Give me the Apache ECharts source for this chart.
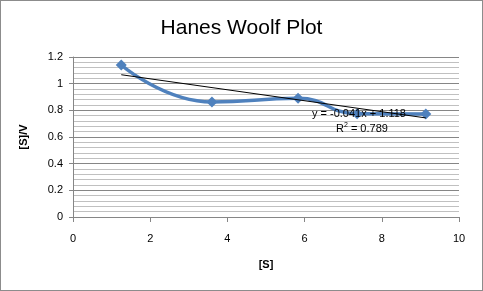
<!DOCTYPE html>
<html>
<head>
<meta charset="utf-8">
<script src="https://cdn.jsdelivr.net/npm/echarts@6/dist/echarts.min.js"></script>
<style>
  html, body { margin: 0; padding: 0; background: #fff; }
  #chart { width: 481px; height: 289px; border: 1px solid #8c8c8c; }
</style>
</head>
<body>
<div id="chart"></div>
<script>
// [S] values and [S]/V
const sValues = [1.25, 3.6, 5.83, 7.36, 9.14]
const svValues = [1.14, 0.863, 0.89, 0.775, 0.773]
// linear trendline end points (y = -0.041x + 1.118)
const trendX = [1.25, 9.14]
const trendY = [1.067, 0.743]
const xTicks = [0, 2, 4, 6, 8, 10]
const yTicks = [0, 0.2, 0.4, 0.6, 0.8, 1, 1.2]

const points = sValues.map((x, i) => [x, svValues[i]])
const trend = trendX.map((x, i) => [x, trendY[i]])

const myChart = echarts.init(document.getElementById('chart'))
const font = '"Liberation Sans", Arial, sans-serif'

const option = {
  backgroundColor: '#fff',
  animation: false,
  title: {
    text: 'Hanes Woolf Plot',
    left: 'center',
    top: 12,
    textStyle: { fontFamily: font, fontSize: 21, fontWeight: 'normal', color: '#000' }
  },
  grid: { left: 72, right: 23, top: 56, bottom: 73 },
  xAxis: {
    type: 'value',
    min: 0,
    max: 10,
    interval: 2,
    name: '[S]',
    nameLocation: 'middle',
    nameGap: 42,
    nameTextStyle: { fontFamily: font, fontSize: 11, fontWeight: 'bold', color: '#000' },
    axisLine: { lineStyle: { color: '#868686' } },
    axisTick: { show: true, length: 5, lineStyle: { color: '#868686' } },
    axisLabel: { fontFamily: font, fontSize: 11, color: '#000', margin: 16 },
    splitLine: { show: false }
  },
  yAxis: {
    type: 'value',
    min: 0,
    max: 1.2,
    interval: 0.2,
    name: '[S]/V',
    nameLocation: 'middle',
    nameGap: 44,
    nameTextStyle: { fontFamily: font, fontSize: 11, fontWeight: 'bold', color: '#000' },
    axisLine: { show: true, lineStyle: { color: '#868686' } },
    axisTick: { show: true, length: 4, lineStyle: { color: '#868686' } },
    axisLabel: { fontFamily: font, fontSize: 11, color: '#000', margin: 10,
      formatter: v => String(yTicks.find(t => Math.abs(t - v) < 1e-6) ?? v) },
    splitLine: { show: true, lineStyle: { color: '#868686', width: 1 } },
    minorTick: { show: false, splitNumber: 5 },
    minorSplitLine: { show: true, lineStyle: { color: '#c0c0c0', width: 1 } }
  },
  series: [
    {
      name: 'data',
      type: 'line',
      smooth: 0.5,
      data: points,
      symbol: 'diamond',
      symbolSize: 11,
      itemStyle: { color: '#4f81bd' },
      lineStyle: { color: '#4f81bd', width: 3.5 },
      z: 2
    },
    {
      name: 'trend',
      type: 'line',
      data: trend,
      symbol: 'none',
      lineStyle: { color: '#000', width: 1 },
      z: 3
    }
  ],
  graphic: [
    {
      type: 'text',
      left: 311,
      top: 107,
      style: { text: 'y = -0.041x + 1.118', font: '11px ' + font, fill: '#000' },
      z: 10
    },
    {
      type: 'text',
      left: 335,
      top: 121,
      style: {
        text: '{a|R}{s|2}{a| = 0.789}',
        rich: {
          a: { fontFamily: font, fontSize: 11, fill: '#000', color: '#000' },
          s: { fontFamily: font, fontSize: 7, color: '#000', verticalAlign: 'top', padding: [0, 0, 6, 0] }
        }
      },
      z: 10
    }
  ]
}

option && myChart.setOption(option)
</script>
</body>
</html>
